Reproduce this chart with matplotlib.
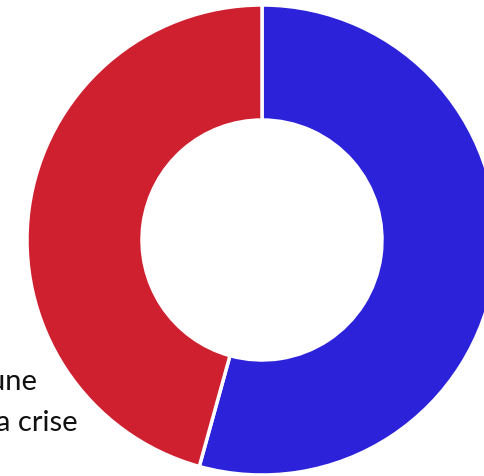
import matplotlib.pyplot as plt

labels = ["Aucune", "À cause de la crise"]
values = [54.3, 45.7]
colors = ["#2C22D9", "#CF2030"]

fig = plt.figure(figsize=(4.85, 4.77), dpi=100)
ax = fig.add_axes([0, 0, 1, 1])

ax.pie(values, colors=colors, startangle=90, counterclock=False,
       center=(262, 236), radius=235, frame=True,
       wedgeprops=dict(width=115, edgecolor="white", linewidth=2.5))

# legend sits mostly off the left edge, only its tail is visible
ax.text(38, 95, labels[0], ha="right", va="center", fontsize=21, family="Lato", color="#111111")
ax.text(78, 54, labels[1], ha="right", va="center", fontsize=21, family="Lato", color="#111111")

ax.set_xlim(0, 485)
ax.set_ylim(0, 477)
ax.set_aspect("auto")
ax.axis("off")

plt.savefig("out.png", dpi=100)
